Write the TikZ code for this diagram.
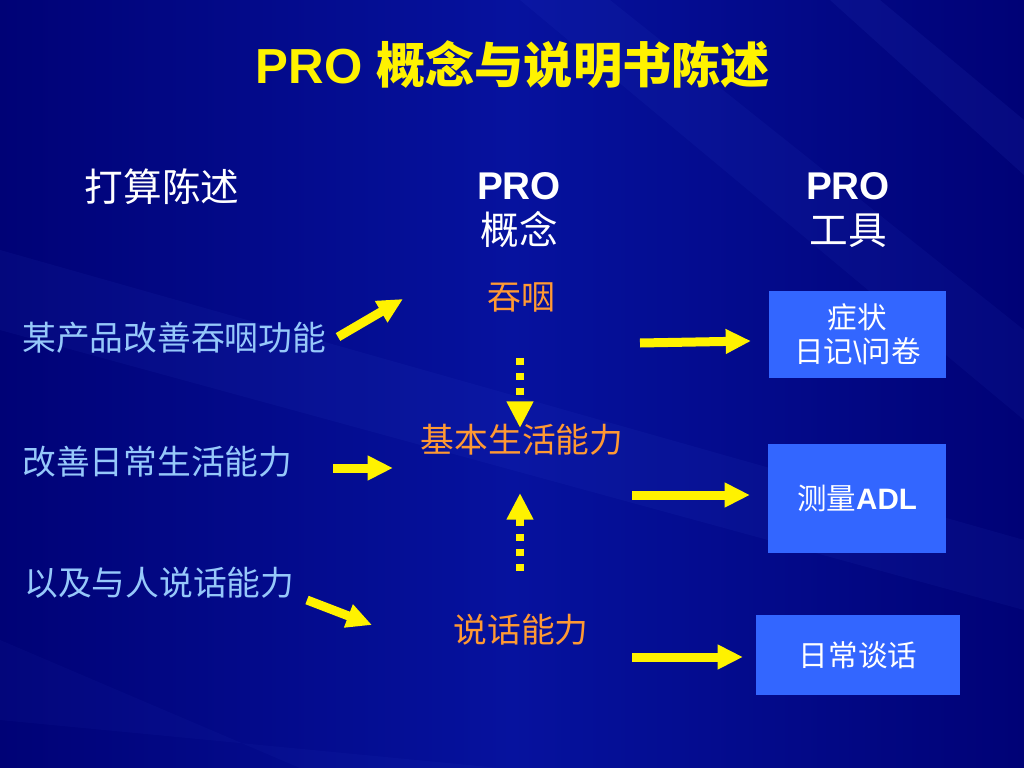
\documentclass[tikz,border=0pt]{standalone}
\usepackage{fontspec}
\setmainfont{Liberation Sans}
\newfontfamily\cjk{Noto Sans CJK SC}
\usetikzlibrary{arrows.meta}
\definecolor{bgblue}{RGB}{6,18,158}
\definecolor{bgdark}{RGB}{0,2,118}
\definecolor{streak}{RGB}{70,100,230}
\definecolor{itemblue}{RGB}{150,200,250}
\definecolor{conceptorange}{RGB}{255,153,51}
\definecolor{toolblue}{RGB}{51,102,255}
\tikzset{
  titletext/.style={text=yellow,font=\fontsize{35}{40}\selectfont\bfseries,inner sep=0pt},
  headtext/.style={text=white,font=\fontsize{27.5}{32}\selectfont,align=center,inner sep=0pt},
  itemtext/.style={text=itemblue,font=\fontsize{24}{28}\cjk,inner sep=0pt},
  concepttext/.style={text=conceptorange,font=\fontsize{24}{28}\cjk,inner sep=0pt},
  toolbox/.style={fill=toolblue,text=white,font=\fontsize{21}{24}\selectfont,align=center,inner sep=0pt},
  yarrow/.style={-{Triangle[length=18pt,width=16.5pt]},yellow,line width=6.4pt},
  darrow/.style={-{Triangle[length=19pt,width=18pt]},yellow,line width=5.7pt,dash pattern=on 5.2pt off 5.5pt}
}
\begin{document}
\begin{tikzpicture}[x=0.025cm,y=-0.025cm]
  % background
  \shade[left color=bgdark,right color=bgdark,middle color=bgblue] (0,0) rectangle (1024,768);
  \useasboundingbox (0,0) rectangle (1024,768);
  \fill[streak,opacity=0.07] (520,0) -- (610,0) -- (1024,330) -- (1024,420) -- cycle;
  \fill[streak,opacity=0.09] (830,0) -- (880,0) -- (1024,120) -- (1024,175) -- cycle;
  \fill[streak,opacity=0.07] (0,250) -- (0,330) -- (1024,610) -- (1024,540) -- cycle;
  \fill[streak,opacity=0.05] (0,640) -- (0,720) -- (500,768) -- (300,768) -- cycle;

  % headings
  \node[titletext] (title) at (513,65) {PRO {\cjk 概念与说明书陈述}};
  \node[headtext] (plan) at (162,187) {\cjk 打算陈述};
  \node[headtext] (concept) at (519,210) {\textbf{PRO}\\{\cjk 概念}};
  \node[headtext] (tool) at (848,210) {\textbf{PRO}\\{\cjk 工具}};

  % statements
  \node[itemtext,anchor=west] (s1) at (22,338) {某产品改善吞咽功能};
  \node[itemtext,anchor=west] (s2) at (22,462) {改善日常生活能力};
  \node[itemtext,anchor=west] (s3) at (24,583) {以及与人说话能力};

  % concepts
  \node[concepttext] (c1) at (521,297) {吞咽};
  \node[concepttext] (c2) at (522,440) {基本生活能力};
  \node[concepttext] (c3) at (521,630) {说话能力};

  % tools
  \node[toolbox,minimum width=4.43cm,minimum height=2.18cm] (t1) at (857.5,334.5)
    {{\cjk 症状}\\{\cjk 日记}\textbackslash{\cjk 问卷}};
  \node[toolbox,minimum width=4.45cm,minimum height=2.73cm] (t2) at (857,498.5)
    {{\cjk 测量}\textbf{ADL}};
  \node[toolbox,minimum width=5.1cm,minimum height=2.0cm] (t3) at (858,655)
    {\cjk 日常谈话};

  % arrow ends
  \coordinate (a1s) at (338,337);  \coordinate (a1e) at (403,299);
  \coordinate (a2s) at (333,468);  \coordinate (a2e) at (393,468);
  \coordinate (a3s) at (307,600);  \coordinate (a3e) at (372,625);
  \coordinate (b1s) at (640,343);  \coordinate (b1e) at (751,341);
  \coordinate (b2s) at (632,495);  \coordinate (b2e) at (750,495);
  \coordinate (b3s) at (632,657);  \coordinate (b3e) at (743,657);
  \coordinate (d1s) at (520,358);  \coordinate (d1e) at (520,428);
  \coordinate (d2s) at (520,571);  \coordinate (d2e) at (520,493);

  \draw[yarrow] (a1s) -- (a1e);
  \draw[yarrow] (a2s) -- (a2e);
  \draw[yarrow] (a3s) -- (a3e);
  \draw[yarrow] (b1s) -- (b1e);
  \draw[yarrow] (b2s) -- (b2e);
  \draw[yarrow] (b3s) -- (b3e);
  \draw[darrow] (d1s) -- (d1e);
  \draw[darrow] (d2s) -- (d2e);
\end{tikzpicture}
\end{document}
